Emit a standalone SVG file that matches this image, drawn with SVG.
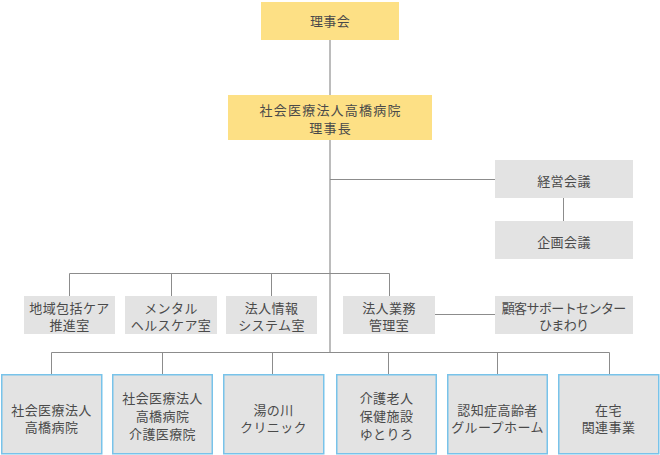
<svg xmlns="http://www.w3.org/2000/svg" width="660" height="455" viewBox="0 0 660 455">
<style>
.y{fill:#fde085;}
.g{fill:#e3e3e3;}
.b{fill:#e3e3e3;stroke:#78c3ea;stroke-width:1.5;}
text{font-family:"Noto Sans CJK JP","Noto Sans",sans-serif;font-size:13px;fill:#4a4a4a;text-anchor:middle;letter-spacing:0.4px;}
text.wide{letter-spacing:1.2px;}
text.tight{letter-spacing:-0.6px;}
.ln{stroke:#8c8c8c;stroke-width:1;fill:none;}
.main{stroke:#bcbcbc;stroke-width:2;fill:none;}
</style>
<rect width="660" height="455" fill="#fff"/>
<g id="connectors">
<line class="main" x1="330" y1="40" x2="330" y2="353"/>
<line class="ln" x1="330" y1="179.5" x2="495" y2="179.5"/>
<line class="ln" x1="563.5" y1="198" x2="563.5" y2="221"/>
<polyline class="ln" points="69.5,296 69.5,273.5 389.5,273.5 389.5,296"/>
<line class="ln" x1="171.5" y1="273.5" x2="171.5" y2="296"/>
<line class="ln" x1="271.5" y1="273.5" x2="271.5" y2="296"/>
<line class="ln" x1="435" y1="314.5" x2="495" y2="314.5"/>
<polyline class="ln" points="51.5,374 51.5,352.5 609.5,352.5 609.5,374"/>
<line class="ln" x1="162.5" y1="352.5" x2="162.5" y2="374"/>
<line class="ln" x1="272.5" y1="352.5" x2="272.5" y2="374"/>
<line class="ln" x1="388.5" y1="352.5" x2="388.5" y2="374"/>
<line class="ln" x1="497.5" y1="352.5" x2="497.5" y2="374"/>
</g>
<g id="board"><rect class="y" x="261" y="2" width="138" height="38"/><text x="330" y="25.5">理事会</text></g>
<g id="chair"><rect class="y" x="228" y="95" width="204" height="45"/><text class="wide" x="330.6" y="115"><tspan x="330.6">社会医療法人高橋病院</tspan><tspan x="330.6" dy="17.5">理事長</tspan></text></g>
<g id="keiei"><rect class="g" x="495" y="160" width="138" height="38"/><text x="564" y="185.5">経営会議</text></g>
<g id="kikaku"><rect class="g" x="495" y="221" width="138" height="38"/><text x="564" y="246.5">企画会議</text></g>
<g id="chiiki"><rect class="g" x="24" y="296" width="91" height="38"/><text x="69.5" y="312.5"><tspan x="69.5">地域包括ケア</tspan><tspan x="69.5" dy="17.5">推進室</tspan></text></g>
<g id="mental"><rect class="g" x="125" y="296" width="92" height="38"/><text x="171" y="312.5"><tspan x="171">メンタル</tspan><tspan x="171" dy="17.5">ヘルスケア室</tspan></text></g>
<g id="joho"><rect class="g" x="226" y="296" width="91" height="38"/><text x="271.5" y="312.5"><tspan x="271.5">法人情報</tspan><tspan x="271.5" dy="17.5">システム室</tspan></text></g>
<g id="gyomu"><rect class="g" x="343" y="296" width="92" height="38"/><text x="389" y="312.5"><tspan x="389">法人業務</tspan><tspan x="389" dy="17.5">管理室</tspan></text></g>
<g id="himawari"><rect class="g" x="495" y="296" width="138" height="38"/><text class="tight" x="563.7" y="312.5"><tspan x="563.7">顧客サポートセンター</tspan><tspan x="563.7" dy="17.5">ひまわり</tspan></text></g>
<g id="hospital"><rect class="b" x="1.75" y="374.75" width="100" height="79"/><text x="51.5" y="414.5"><tspan x="51.5">社会医療法人</tspan><tspan x="51.5" dy="17.5">高橋病院</tspan></text></g>
<g id="kaigoiryo"><rect class="b" x="112.75" y="374.75" width="99.5" height="79"/><text x="162.5" y="402.5"><tspan x="162.5">社会医療法人</tspan><tspan x="162.5" dy="18">高橋病院</tspan><tspan x="162.5" dy="18">介護医療院</tspan></text></g>
<g id="yunokawa"><rect class="b" x="223.75" y="374.75" width="100" height="79"/><text x="273.5" y="414.5"><tspan x="273.5">湯の川</tspan><tspan x="273.5" dy="17.5">クリニック</tspan></text></g>
<g id="yutoriro"><rect class="b" x="336.75" y="374.75" width="99.5" height="79"/><text x="386.5" y="402.5"><tspan x="386.5">介護老人</tspan><tspan x="386.5" dy="18">保健施設</tspan><tspan x="386.5" dy="18">ゆとりろ</tspan></text></g>
<g id="group"><rect class="b" x="447.75" y="374.75" width="99.5" height="79"/><text x="497.5" y="414.5"><tspan x="497.5">認知症高齢者</tspan><tspan x="497.5" dy="17.5">グループホーム</tspan></text></g>
<g id="zaitaku"><rect class="b" x="558.75" y="374.75" width="100" height="79"/><text x="608.5" y="414.5"><tspan x="608.5">在宅</tspan><tspan x="608.5" dy="17.5">関連事業</tspan></text></g>
</svg>
